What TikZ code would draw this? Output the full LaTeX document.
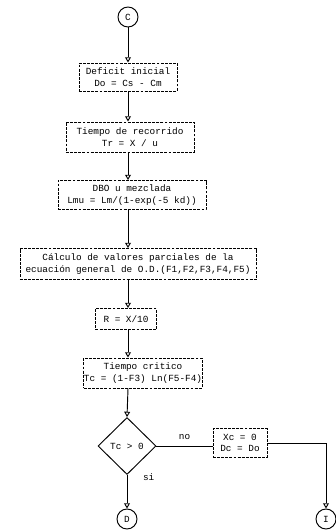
\documentclass[tikz,border=0pt]{standalone}
\usepackage{fontspec}
\setmonofont{Liberation Mono}
\usetikzlibrary{arrows.meta,shapes.geometric}
\begin{document}
\begin{tikzpicture}[x=0.03cm, y=-0.03cm, font=\ttfamily\fontsize{8}{10}\selectfont]
    \tikzstyle{proc} = [rectangle, draw, thick, dash pattern=on 2.5pt off 1pt, align=center, inner sep=0pt]
    \tikzstyle{conn} = [circle, draw, thick, minimum size=0.6cm, inner sep=0pt]
    \tikzstyle{test} = [diamond, draw, thick, minimum width=1.74cm, minimum height=1.71cm, inner sep=0pt]
    \tikzstyle{line} = [draw, thick, -{Triangle[open, width=5pt, length=4.5pt]}]

    \useasboundingbox (0,0) rectangle (336,532);

    \node [conn] (c) at (128,17) {C};
    \node [proc, minimum width=2.94cm, minimum height=0.84cm] (defi) at (128,77) {Deficit inicial\\Do = Cs - Cm};
    \node [proc, minimum width=3.84cm, minimum height=0.90cm] (trec) at (130,137) {Tiempo de recorrido\\Tr = X / u};
    \node [proc, minimum width=4.44cm, minimum height=0.87cm] (dbo) at (132,195) {DBO u mezclada\\Lmu = Lm/(1-exp(-5 kd))};
    \node [proc, minimum width=7.08cm, minimum height=0.93cm] (calc) at (138,264) {Cálculo de valores parciales de la\\ecuación general de O.D.(F1,F2,F3,F4,F5)};
    \node [proc, minimum width=1.83cm, minimum height=0.63cm] (r) at (126,319) {R = X/10};
    \node [proc, minimum width=3.36cm, minimum height=0.90cm] (tcri) at (143,373) {Tiempo critico\\Tc = (1-F3) Ln(F5-F4)};
    \node [test] (tc) at (127,446) {Tc > 0};
    \node [proc, minimum width=1.62cm, minimum height=0.87cm] (xc) at (240,443) {Xc = 0\\Dc = Do};
    \node [conn] (d) at (127,519) {D};
    \node [conn] (i) at (326,519) {I};
    \coordinate (bend) at (i |- xc);

    \draw [line] (c) -- (c |- defi.north);
    \draw [line] (c |- defi.south) -- (c |- trec.north);
    \draw [line] (c |- trec.south) -- (c |- dbo.north);
    \draw [line] (c |- dbo.south) -- (c |- calc.north);
    \draw [line] (c |- calc.south) -- (c |- r.north);
    \draw [line] (c |- r.south) -- (c |- tcri.north);
    \draw [line] (c |- tcri.south) -- (tc.north);
    \draw [line] (tc.south) -- node [pos=0.05, right=10pt] {si} (d);
    \draw [draw, thick] (tc.east) -- node [above=2pt] {no} (tc.east -| xc.west);
    \draw [line] (xc.east |- bend) -- (bend) -- (i);
\end{tikzpicture}
\end{document}
